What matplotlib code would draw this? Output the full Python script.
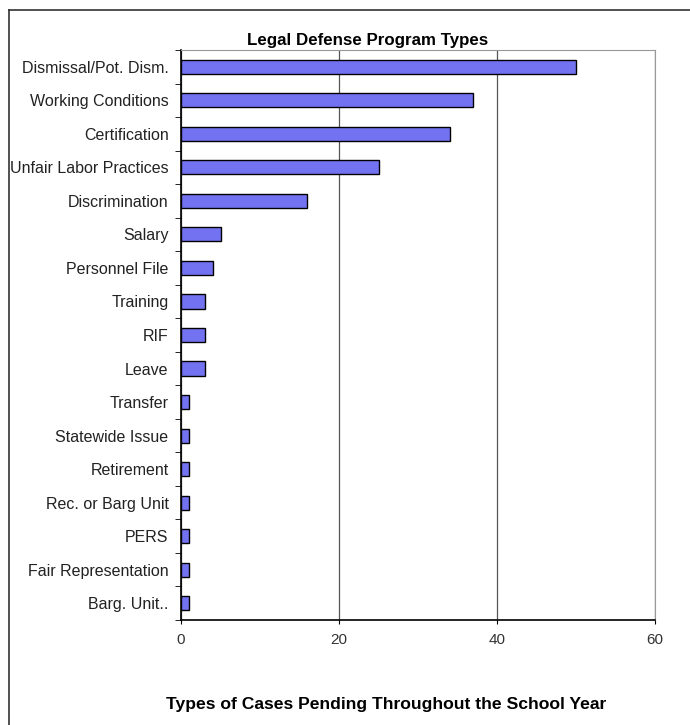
import matplotlib.pyplot as plt
from matplotlib.lines import Line2D
import numpy as np

plt.rcParams['font.family'] = ['Liberation Sans', 'DejaVu Sans']

CATEGORIES = [
    "Dismissal/Pot. Dism.", "Working Conditions", "Certification",
    "Unfair Labor Practices", "Discrimination", "Salary", "Personnel File",
    "Training", "RIF", "Leave", "Transfer", "Statewide Issue", "Retirement",
    "Rec. or Barg Unit", "PERS", "Fair Representation", "Barg. Unit..",
]
CASES = [50, 37, 34, 25, 16, 5, 4, 3, 3, 3, 1, 1, 1, 1, 1, 1, 1]
X_TICKS = [0, 20, 40, 60]


def main():
    fig = plt.figure(figsize=(6.9, 7.25), dpi=100)
    ax = fig.add_axes([181 / 690, 1 - 620 / 725, 474 / 690, 570 / 725])

    pos = np.arange(len(CATEGORIES))
    ax.barh(pos, CASES, height=0.42, color="#7373f2", edgecolor="black",
            linewidth=1.0, zorder=3)
    ax.set_ylim(len(CATEGORIES) - 0.5, -0.5)
    ax.set_xlim(0, 60)

    ax.set_yticks(pos)
    ax.set_yticklabels(CATEGORIES, fontsize=11.5, color="#222222")
    ax.set_yticks(np.arange(len(CATEGORIES) + 1) - 0.5, minor=True)
    ax.tick_params(axis="y", which="major", length=0, pad=9)
    ax.tick_params(axis="y", which="minor", length=4, direction="out")

    ax.set_xticks(X_TICKS)
    ax.set_xticklabels([str(t) for t in X_TICKS], fontsize=11, color="#333333")
    ax.tick_params(axis="x", length=3, direction="out", pad=6)

    ax.grid(axis="x", color="#555555", linewidth=0.9, zorder=0)
    for side in ("top", "right"):
        ax.spines[side].set_color("#999999")
    ax.spines["left"].set_linewidth(1.2)
    ax.spines["bottom"].set_linewidth(1.2)

    fig.text(368 / 690, 1 - 41 / 725, "Legal Defense Program Types",
             ha="center", va="center", fontsize=12.2, fontweight="bold")
    fig.text(386 / 690, 1 - 705 / 725,
             "Types of Cases Pending Throughout the School Year",
             ha="center", va="center", fontsize=12.6, fontweight="bold")

    # outer frame of the original image
    fig.add_artist(Line2D([9 / 690, 9 / 690], [0, 1 - 10 / 725],
                          color="#333333", linewidth=1.2, transform=fig.transFigure))
    fig.add_artist(Line2D([9 / 690, 1], [1 - 10 / 725, 1 - 10 / 725],
                          color="#333333", linewidth=1.2, transform=fig.transFigure))

    fig.savefig("out.png", dpi=100)


if __name__ == "__main__":
    main()
